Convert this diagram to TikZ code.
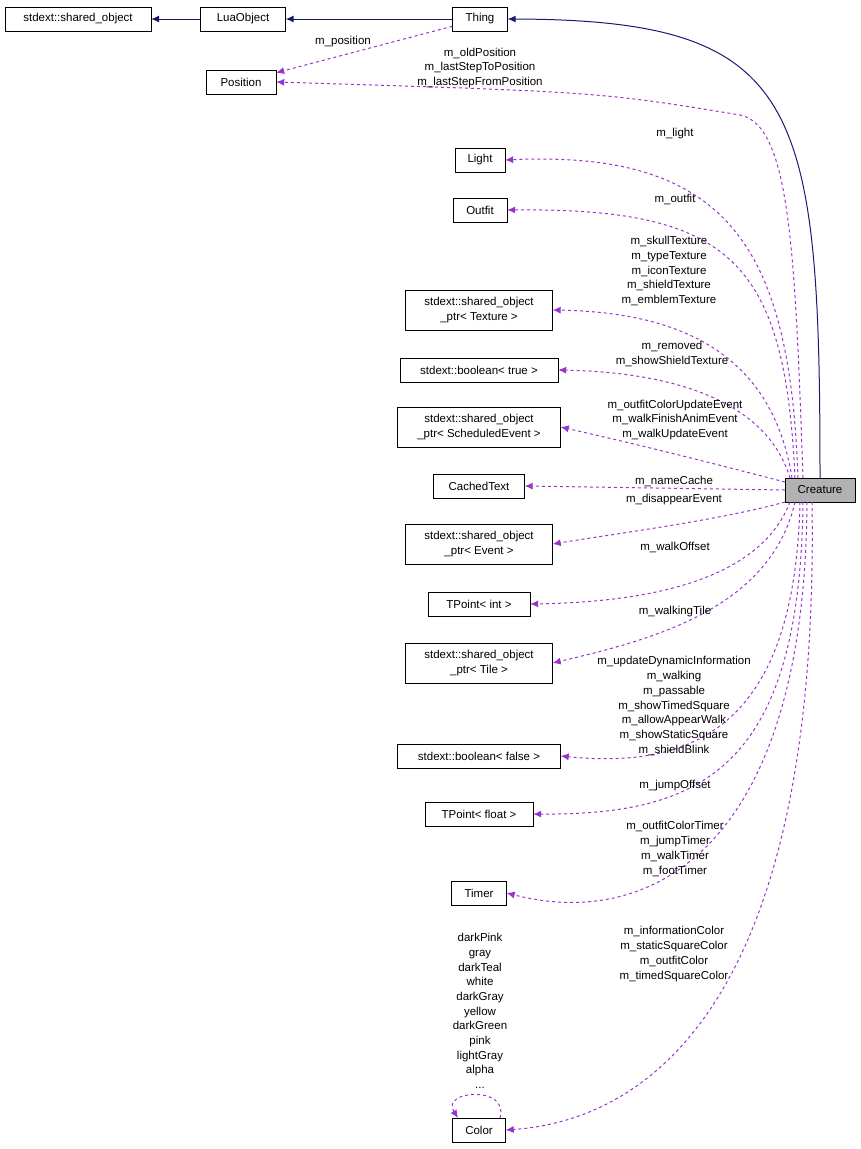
\documentclass[tikz,border=0pt]{standalone}
\usepackage{fontspec}
\setmainfont{Liberation Sans}
\usetikzlibrary{arrows.meta}
\definecolor{dep}{RGB}{154,50,205}
\definecolor{inh}{RGB}{25,25,112}
\begin{document}
\begin{tikzpicture}[
  x = 1pt, y = -1pt,
  cls/.style = {
    draw = black,
    fill = white,
    font = \fontsize{11.5}{14.7}\selectfont,
    align = center,
    inner sep = 2pt
  },
  lbl/.style = {
    font = \fontsize{11.5}{14.7}\selectfont,
    align = center,
    inner sep = 0pt
  },
  uses/.style = {
    draw = dep,
    dashed,
    line width = 1pt,
    -{Latex[length=8pt,width=7pt]}
  },
  isa/.style = {
    draw = inh,
    line width = 1pt,
    -{Latex[length=8pt,width=7pt]}
  }
]
  \useasboundingbox (0,0) rectangle (861,1149);

  \node[cls, minimum width = 146pt, minimum height = 24pt] (sobj) at (78, 19) {stdext::shared\_object};
  \node[cls, minimum width = 85pt, minimum height = 24pt] (lua) at (243, 19) {LuaObject};
  \node[cls, minimum width = 55pt, minimum height = 24pt] (thing) at (480, 19) {Thing};
  \node[cls, minimum width = 70pt, minimum height = 24pt] (pos) at (241, 82) {Position};
  \node[cls, minimum width = 50pt, minimum height = 24pt] (light) at (480, 160) {Light};
  \node[cls, minimum width = 54pt, minimum height = 24pt] (outfit) at (480, 210) {Outfit};
  \node[cls, minimum width = 147pt, minimum height = 40pt] (tex) at (479, 310) {stdext::shared\_object\\\_ptr\textless{} Texture \textgreater};
  \node[cls, minimum width = 158pt, minimum height = 24pt] (btrue) at (479, 370) {stdext::boolean\textless{} true \textgreater};
  \node[cls, minimum width = 163pt, minimum height = 40pt] (sched) at (479, 427) {stdext::shared\_object\\\_ptr\textless{} ScheduledEvent \textgreater};
  \node[cls, minimum width = 91pt, minimum height = 24pt] (ctext) at (479, 486) {CachedText};
  \node[cls, minimum width = 147pt, minimum height = 40pt] (event) at (479, 544) {stdext::shared\_object\\\_ptr\textless{} Event \textgreater};
  \node[cls, minimum width = 102pt, minimum height = 24pt] (tint) at (479, 604) {TPoint\textless{} int \textgreater};
  \node[cls, minimum width = 147pt, minimum height = 40pt] (tile) at (479, 663) {stdext::shared\_object\\\_ptr\textless{} Tile \textgreater};
  \node[cls, minimum width = 163pt, minimum height = 24pt] (bfalse) at (479, 756) {stdext::boolean\textless{} false \textgreater};
  \node[cls, minimum width = 108pt, minimum height = 24pt] (tfloat) at (479, 814) {TPoint\textless{} float \textgreater};
  \node[cls, minimum width = 55pt, minimum height = 24pt] (timer) at (479, 893) {Timer};
  \node[cls, minimum width = 53pt, minimum height = 24pt] (color) at (479, 1130) {Color};
  \node[cls, fill = gray!60, minimum width = 70pt, minimum height = 24pt] (creat) at (820, 490) {Creature};

  % inheritance
  \draw[isa] (lua) -- (sobj);
  \draw[isa] (thing) -- (lua);
  \draw[isa] (creat.north) .. controls (820, 100) and (800, 20) .. (thing.east);

  % members
  \draw[uses] (thing) -- (pos);
  \draw[uses] (803, 478) .. controls (795, 250) and (790, 125) .. (740, 115) .. controls (600, 92) .. (pos.east);
  \draw[uses] (798, 478) .. controls (790, 250) and (730, 150) .. (light.east);
  \draw[uses] (795, 478) .. controls (785, 260) and (730, 208) .. (outfit.east);
  \draw[uses] (792, 478) .. controls (770, 340) and (660, 312) .. (tex.east);
  \draw[uses] (790, 478) .. controls (765, 395) and (660, 372) .. (btrue.east);
  \draw[uses] (785, 482) .. controls (700, 460) and (640, 445) .. (sched.east);
  \draw[uses] (creat.west) -- (ctext.east);
  \draw[uses] (785, 502) .. controls (720, 520) and (620, 533) .. (event.east);
  \draw[uses] (790, 502) .. controls (760, 580) and (650, 602) .. (tint.east);
  \draw[uses] (795, 502) .. controls (770, 610) and (650, 640) .. (tile.east);
  \draw[uses] (800, 502) .. controls (795, 720) and (700, 770) .. (bfalse.east);
  \draw[uses] (803, 502) .. controls (800, 770) and (700, 815) .. (tfloat.east);
  \draw[uses] (807, 502) .. controls (805, 850) and (650, 930) .. (timer.east);
  \draw[uses] (812, 502) .. controls (820, 1000) and (650, 1120) .. (color.east);
  \draw[uses] (500, 1118) .. controls (510, 1085) and (440, 1090) .. (458, 1118);

  % labels
  \node[lbl] (lpos) at (343, 42) {m\_position};
  \node[lbl] (lold) at (480, 68) {m\_oldPosition\\m\_lastStepToPosition\\m\_lastStepFromPosition};
  \node[lbl] (llight) at (675, 134) {m\_light};
  \node[lbl] (loutfit) at (675, 199) {m\_outfit};
  \node[lbl] (ltex) at (669, 271) {m\_skullTexture\\m\_typeTexture\\m\_iconTexture\\m\_shieldTexture\\m\_emblemTexture};
  \node[lbl] (ltrue) at (672, 354) {m\_removed\\m\_showShieldTexture};
  \node[lbl] (lsched) at (675, 420) {m\_outfitColorUpdateEvent\\m\_walkFinishAnimEvent\\m\_walkUpdateEvent};
  \node[lbl] (lctext) at (674, 481) {m\_nameCache};
  \node[lbl] (levent) at (674, 500) {m\_disappearEvent};
  \node[lbl] (ltint) at (675, 547) {m\_walkOffset};
  \node[lbl] (ltile) at (675, 612) {m\_walkingTile};
  \node[lbl] (lfalse) at (674, 706) {m\_updateDynamicInformation\\m\_walking\\m\_passable\\m\_showTimedSquare\\m\_allowAppearWalk\\m\_showStaticSquare\\m\_shieldBlink};
  \node[lbl] (lfloat) at (675, 786) {m\_jumpOffset};
  \node[lbl] (ltimer) at (675, 849) {m\_outfitColorTimer\\m\_jumpTimer\\m\_walkTimer\\m\_footTimer};
  \node[lbl] (lcolor) at (674, 954) {m\_informationColor\\m\_staticSquareColor\\m\_outfitColor\\m\_timedSquareColor};
  \node[lbl] (lself) at (480, 1011) {darkPink\\gray\\darkTeal\\white\\darkGray\\yellow\\darkGreen\\pink\\lightGray\\alpha\\...};
\end{tikzpicture}
\end{document}
